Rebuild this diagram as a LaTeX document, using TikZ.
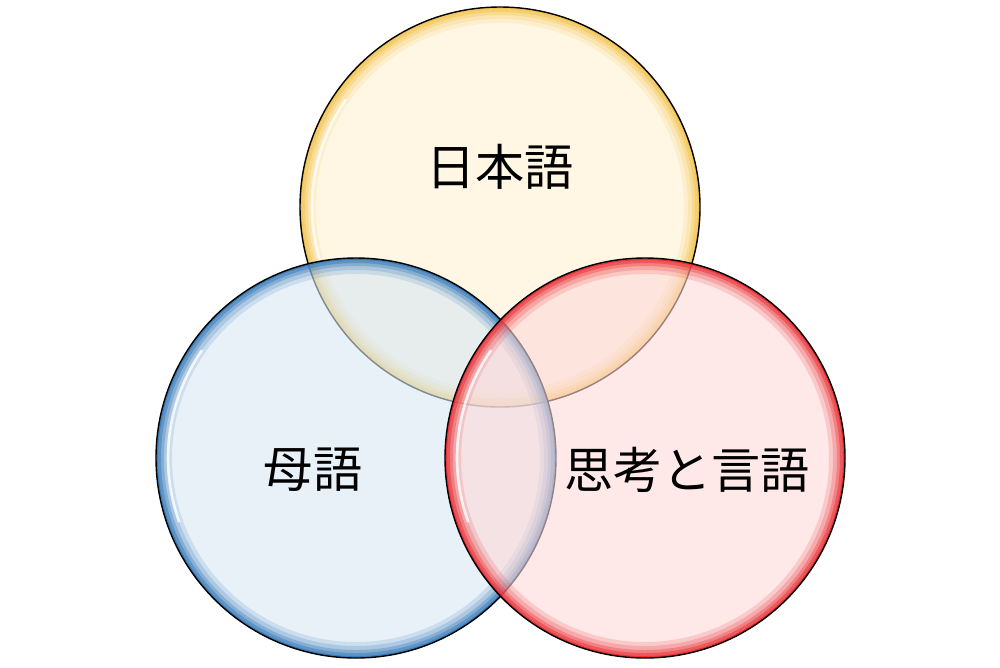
\documentclass[tikz,border=0pt]{standalone}
\usepackage{fontspec}
\newfontfamily\cjk{Noto Sans CJK JP}
\begin{document}
\begin{tikzpicture}[x=0.02cm,y=-0.02cm,
  lab/.style={font=\cjk\fontsize{28}{28}\selectfont,text=black}]
\useasboundingbox (0,0) rectangle (1000,667);
\definecolor{yf}{HTML}{FFF2D2}\definecolor{ye}{HTML}{F2C24A}
\definecolor{bf}{HTML}{D8E7F4}\definecolor{be}{HTML}{2F74B5}
\definecolor{rf}{HTML}{FDD8D8}\definecolor{re}{HTML}{E8262B}
\foreach \cx/\cy/\f/\e/\n in {500/207/yf/ye/Y,356/458/bf/be/B,645/458/rf/re/R}{
  \fill[\f,opacity=0.6] (\cx,\cy) circle (200);
  \foreach \w/\o in {16/0.15,12/0.2,8/0.3,5/0.45,2/0.7}
    \draw[\e,line width=\w*0.02cm,opacity=\o] (\cx,\cy) circle (200-\w/2);
  \draw[white,line width=1.5pt,opacity=0.8] (\cx,\cy) ++(160:188) arc (160:215:188);
  \draw[black,line width=0.8pt] (\cx,\cy) circle (200);
}
\node[lab] (jp) at (500,167) {日本語};
\node[lab] (mt) at (313,470) {母語};
\node[lab] (th) at (687,470) {思考と言語};
\end{tikzpicture}
\end{document}
